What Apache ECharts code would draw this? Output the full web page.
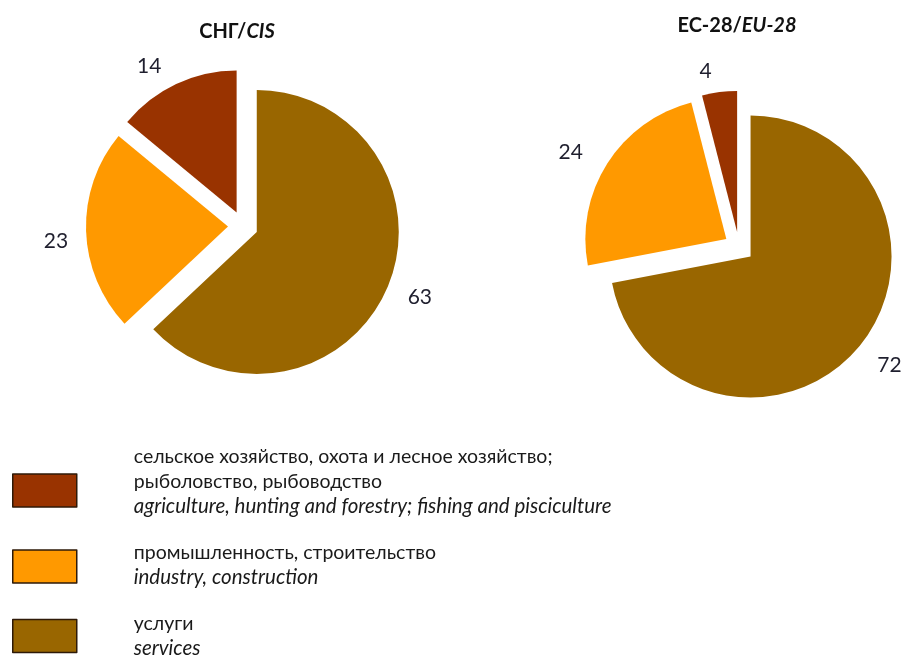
<!DOCTYPE html>
<html style="height: 100%">
  <head>
    <meta charset="UTF-8">
  </head>
  <body style="height: 100%; margin: 0; background: #fff">
    <div id="container" style="width: 902px; height: 657px"></div>
    <script src="https://cdn.jsdelivr.net/npm/echarts@6/dist/echarts.min.js"></script>
    <script>
    var myChart = echarts.init(document.getElementById('container'), null, { renderer: 'canvas' });

    // categories (legend order)
    const ruNames = [
      'сельское хозяйство, охота и лесное хозяйство;\nрыболовство, рыбоводство',
      'промышленность, строительство',
      'услуги'
    ];
    const enNames = [
      'agriculture, hunting and forestry; fishing and pisciculture',
      'industry, construction',
      'services'
    ];
    const colors = ['#993300', '#FF9900', '#996600'];

    // shares, %
    const cisValues = [14, 23, 63];
    const euValues = [4, 24, 72];

    // pie is drawn clockwise from 12 o'clock: services, industry, agriculture
    const pieOrder = [2, 1, 0];

    // label distance from the rim, and how far the number drops below its anchor
    const cisLabelLen = [23, 13, 17];
    const cisLabelDrop = [3, 10, 2];
    const euLabelLen = [23, 23, 17];
    const euLabelDrop = [2, 1, 8];

    function pieData(values, lens, drops) {
      return pieOrder.map(i => ({
        name: ruNames[i],
        value: values[i],
        selected: true,
        itemStyle: { color: colors[i] },
        // an empty first line of height 2*drop pushes the number down by drop
        label: {
          formatter: '{gap|}\n{c}',
          rich: { gap: { height: drops[i] * 2, lineHeight: drops[i] * 2 } }
        },
        labelLine: { length: lens[i] }
      }));
    }

    const font = 'Lato, "Open Sans", sans-serif';

    function pieSeries(values, lens, drops, center, radius) {
      return {
        type: 'pie',
        center: center,
        radius: radius,
        startAngle: 90,
        clockwise: true,
        selectedMode: 'multiple',
        selectedOffset: 15,
        avoidLabelOverlap: false,
        emphasis: { disabled: true },
        label: {
          show: true,
          position: 'outside',
          color: '#1f1f2e',
          fontFamily: font,
          fontSize: 21,
          lineHeight: 24
        },
        labelLine: { show: false, length: 23, length2: 0 },
        data: pieData(values, lens, drops)
      };
    }

    const titleRich = {
      b: { fontFamily: font, fontWeight: 'bold', fontSize: 20, color: '#111' },
      bi: { fontFamily: font, fontWeight: 'bold', fontStyle: 'italic', fontSize: 20, color: '#111' }
    };

    const legendRich = {
      ru: { fontFamily: font, fontSize: 19.5, color: '#1a1a1a', lineHeight: 25 },
      en: { fontFamily: font, fontSize: 20.5, fontStyle: 'italic', color: '#1a1a1a', lineHeight: 24 }
    };

    // one legend block per category, so each can sit where the reference has it
    const legendTops = [442, 538, 609];
    const legendTextPad = [[0, 0, 18, 52], [0, 0, 3, 52], [0, 0, 0, 52]];

    function legendBlock(i) {
      return {
        orient: 'vertical',
        left: 7,
        top: legendTops[i],
        itemWidth: 64,
        itemHeight: 33,
        icon: 'rect',
        selectedMode: false,
        data: [ruNames[i]],
        itemStyle: { borderColor: '#2e1a08', borderWidth: 1.5 },
        formatter: function (name) {
          const lines = name.split('\n').map(l => '{ru|' + l + '}');
          lines.push('{en|' + enNames[i] + '}');
          return lines.join('\n');
        },
        textStyle: { padding: legendTextPad[i], rich: legendRich }
      };
    }

    var option = {
      animation: false,
      title: [
        { text: '{b|СНГ/}{bi|CIS}', left: 232, top: 17, textAlign: 'center', textStyle: { rich: titleRich } },
        { text: '{b|ЕС-28/}{bi|EU-28}', left: 732, top: 11, textAlign: 'center', textStyle: { rich: titleRich } }
      ],
      legend: [legendBlock(0), legendBlock(1), legendBlock(2)],
      series: [
        pieSeries(cisValues, cisLabelLen, cisLabelDrop, [243, 226], 142),
        pieSeries(euValues, euLabelLen, euLabelDrop, [739, 247], 141)
      ]
    };

    myChart.setOption(option);
    window.addEventListener('resize', myChart.resize);
    </script>
  </body>
</html>
